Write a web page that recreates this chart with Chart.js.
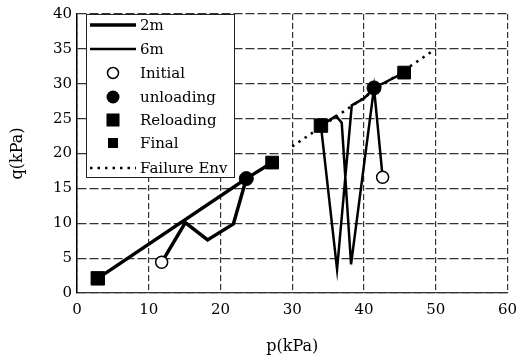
<!DOCTYPE html>
<html>
<head>
<meta charset="UTF-8">
<script src="https://cdn.jsdelivr.net/npm/chart.js"></script>
<style>
  body { margin: 0; background: #fff; }
  #wrap { width: 525px; height: 360px; }
</style>
</head>
<body>
<div id="wrap"><canvas id="qp" width="525" height="360"></canvas></div>
<script>
// stress paths, p (kPa) vs q (kPa)
const p2m = [11.8, 15.1, 18.2, 21.8, 23.6, 2.9, 23.6, 27.2];
const q2m = [4.4, 10.1, 7.6, 9.9, 16.4, 2.1, 16.4, 18.7];
const p6m = [42.6, 41.4, 38.2, 36.9, 36.1, 34.0, 36.25, 38.3, 40.0, 41.4, 45.6];
const q6m = [16.6, 29.4, 4.1, 24.4, 25.4, 24.0, 3.4, 26.9, 27.9, 29.4, 31.6];

const initialP = [11.8, 42.6], initialQ = [4.4, 16.6];
const unloadP = [23.6, 41.4], unloadQ = [16.4, 29.4];
const reloadP = [2.9, 34.0], reloadQ = [2.1, 24.0];
const finalP = [27.2, 45.6], finalQ = [18.7, 31.6];
const envP = [30, 50], envQ = [21, 35];

const xTicks = [0, 10, 20, 30, 40, 50, 60];
const yTicks = [0, 5, 10, 15, 20, 25, 30, 35, 40];

const FONT = "'DejaVu Serif', 'Liberation Serif', serif";

function pts(xs, ys) {
  return xs.map((x, i) => ({ x: x, y: ys[i] }));
}

// legend drawn inside the plot, top-left, like the original figure
const boxLegend = {
  id: 'boxLegend',
  afterDraw(chart) {
    const ctx = chart.ctx;
    const ds = chart.data.datasets;
    const L = 86, T = chart.chartArea.top, R = 234, B = 177;
    ctx.save();
    ctx.fillStyle = '#fff';
    ctx.fillRect(L, T, R - L, B - T);
    ctx.strokeStyle = '#222';
    ctx.lineWidth = 1;
    ctx.strokeRect(L + 0.5, T + 0.5, R - L, B - T);

    const rows = [25, 49, 73, 97, 120, 143, 168];
    const mx = 113;
    ctx.font = '15px ' + FONT;
    ctx.textBaseline = 'middle';
    ds.forEach((d, i) => {
      const y = rows[i];
      ctx.strokeStyle = '#000';
      ctx.fillStyle = '#000';
      if (d.kind === 'line') {
        ctx.beginPath();
        ctx.lineWidth = d.borderWidth;
        ctx.setLineDash(d.borderDash || []);
        ctx.moveTo(90, y);
        ctx.lineTo(136, y);
        ctx.stroke();
        ctx.setLineDash([]);
      } else if (d.pointStyle === 'circle') {
        ctx.beginPath();
        ctx.arc(mx, y, d.legendR, 0, Math.PI * 2);
        ctx.lineWidth = 1.5;
        if (d.pointBackgroundColor === '#000') ctx.fill();
        else { ctx.fillStyle = '#fff'; ctx.fill(); ctx.stroke(); }
      } else {
        const s = d.legendR;
        ctx.fillRect(mx - s, y - s, 2 * s, 2 * s);
      }
      ctx.fillStyle = '#000';
      ctx.fillText(d.label, 140, y + 1);
    });
    ctx.restore();
  }
};

new Chart(document.getElementById('qp'), {
  type: 'scatter',
  data: {
    datasets: [
      { label: '2m', kind: 'line', data: pts(p2m, q2m), showLine: true, borderColor: '#000',
        borderWidth: 3.5, pointRadius: 0, order: 2 },
      { label: '6m', kind: 'line', data: pts(p6m, q6m), showLine: true, borderColor: '#000',
        borderWidth: 2.5, pointRadius: 0, order: 2 },
      { label: 'Initial', data: pts(initialP, initialQ), pointStyle: 'circle', pointRadius: 6,
        pointBackgroundColor: '#fff', pointBorderColor: '#000', pointBorderWidth: 1.5, legendR: 5.5, order: 0 },
      { label: 'unloading', data: pts(unloadP, unloadQ), pointStyle: 'circle', pointRadius: 7,
        pointBackgroundColor: '#000', pointBorderColor: '#000', legendR: 6.5, order: 0 },
      { label: 'Reloading', data: pts(reloadP, reloadQ), pointStyle: 'rect', pointRadius: 9.5,
        pointBackgroundColor: '#000', pointBorderColor: '#000', legendR: 6.5, order: 0 },
      { label: 'Final', data: pts(finalP, finalQ), pointStyle: 'rect', pointRadius: 9,
        pointBackgroundColor: '#000', pointBorderColor: '#000', legendR: 5, order: 0 },
      { label: 'Failure Env', kind: 'line', data: pts(envP, envQ), showLine: true, borderColor: '#000',
        borderWidth: 2.5, borderDash: [2.5, 5], pointRadius: 0, order: 1 }
    ]
  },
  options: {
    responsive: false,
    animation: false,
    layout: { padding: { top: 13, right: 16, left: 0, bottom: 0 } },
    plugins: { legend: { display: false }, tooltip: { enabled: false } },
    scales: {
      x: {
        type: 'linear', min: 0, max: 60,
        afterBuildTicks: (s) => { s.ticks = xTicks.map(v => ({ value: v })); },
        afterFit: (s) => { s.height = 67; },
        grid: { color: '#333', lineWidth: 1.2, drawTicks: false },
        border: { color: '#333', width: 1.2, dash: [6, 3] },
        ticks: { color: '#000', font: { family: FONT, size: 15 }, padding: 8, maxRotation: 0 },
        title: { display: true, text: 'p(kPa)', color: '#000', font: { family: FONT, size: 16 }, padding: { top: 10 } }
      },
      y: {
        type: 'linear', min: 0, max: 40,
        afterBuildTicks: (s) => { s.ticks = yTicks.map(v => ({ value: v })); },
        afterFit: (s) => { s.width = 77; },
        grid: { color: '#333', lineWidth: 1.2, drawTicks: false },
        border: { color: '#000', width: 1.5, dash: [9, 3] },
        ticks: { color: '#000', font: { family: FONT, size: 15 }, padding: 5 },
        title: { display: true, text: 'q(kPa)', color: '#000', font: { family: FONT, size: 16 }, padding: { top: 8, bottom: 4 } }
      }
    }
  },
  plugins: [boxLegend]
});
</script>
</body>
</html>
